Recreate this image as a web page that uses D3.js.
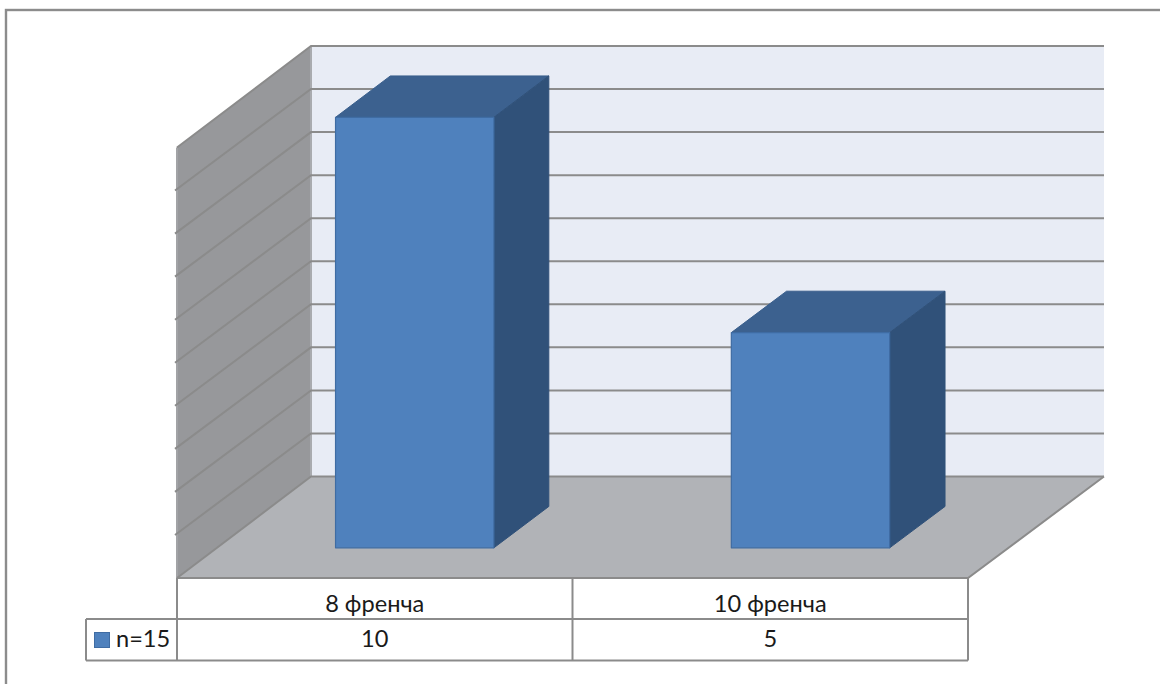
<!DOCTYPE html>
<html>
<head>
<meta charset="utf-8">
<title>n=15</title>
<script src="https://cdn.jsdelivr.net/npm/d3@7.9.0/dist/d3.min.js"></script>
<style>
  html, body { margin: 0; padding: 0; background: #fff; }
  svg { display: block; }
  text { font-family: Lato, "Open Sans", sans-serif; font-size: 23.6px; fill: #1a1a1a; }
</style>
</head>
<body>
<svg id="chart" width="1160" height="684"></svg>
<script>
/* ──── data ──── */
const categories = ['8 френча', '10 френча'];
const seriesName = 'n=15';
const values     = [10, 5];
const gridTicks  = d3.range(0, 11);

/* ──── layout ──── */
const frame  = { left: 6, top: 10, right: 1170, bottom: 700 };
const front  = { left: 177, right: 968, bottom: 578, top: 147.5 };
const skew   = { x: 134, y: -101.5 };      // front-to-back shift of the box
const table  = { row1: 619, row2: 660.5, legendLeft: 86 };
const barZ   = [0.297, 0.705];             // bar's front and back depth, 0-1

const svg = d3.select('#chart');

const xScale = d3.scaleBand()
  .domain(categories)
  .range([front.left, front.right]);

const yScale = d3.scaleLinear()
  .domain([0, 10])
  .range([front.bottom, front.top]);

/* project (px along x, value, depth) to the page; back wall is 2px wider */
const proj = (x, v, z) => [
  x + skew.x * z + 2 * z * (x - front.left) / (front.right - front.left),
  yScale(v) + skew.y * z
];
const poly = pts => pts.map(p => p.join(',')).join(' ');

/* chart frame */
svg.append('rect')
   .attr('x', frame.left).attr('y', frame.top)
   .attr('width', frame.right - frame.left)
   .attr('height', frame.bottom - frame.top)
   .attr('fill', '#fff')
   .attr('stroke', '#8c8c8c')
   .attr('stroke-width', 2.4);

/* ──── box walls ──── */
const L = front.left, R = front.right;

svg.append('polygon')                      // back wall
   .attr('points', poly([proj(L, 0, 1), proj(R, 0, 1), proj(R, 10, 1), proj(L, 10, 1)]))
   .attr('fill', '#e8ecf5');

svg.append('polygon')                      // left wall
   .attr('points', poly([proj(L, 0, 0), proj(L, 0, 1), proj(L, 10, 1), proj(L, 10, 0)]))
   .attr('fill', '#97989b');

svg.append('polygon')                      // floor
   .attr('points', poly([proj(L, 0, 0), proj(R, 0, 0), proj(R, 0, 1), proj(L, 0, 1)]))
   .attr('fill', '#b1b3b7');

/* ──── gridlines ──── */
const grid = svg.append('g')
  .attr('fill', 'none')
  .attr('stroke', '#8b8b8b')
  .attr('stroke-width', 2);

/* wall edges first so the gridlines sit on top */
grid.append('path')
  .attr('stroke', '#a2a3a6')
  .attr('d', d3.line()([proj(L, 10, 0), proj(L, 0, 0)]));
grid.append('path')
  .attr('stroke', '#a9abaf')
  .attr('d', d3.line()([proj(L, 10, 1), proj(L, 0, 1)]));

grid.selectAll('path.tick')
  .data(gridTicks)
  .join('path')
  .attr('class', 'tick')
  .attr('d', v => d3.line()([
    proj(L - (v === 0 || v === 10 ? 0 : 2), v, 0),
    proj(L, v, 1),
    proj(R, v, 1)
  ]));

grid.append('path')
  .attr('d', d3.line()([proj(L, 0, 0), proj(R, 0, 0), proj(R, 0, 1)]));

/* ──── bars ──── */
const barWidth = xScale.bandwidth() * 0.4;

const bars = svg.append('g')
  .selectAll('g')
  .data(values)
  .join('g')
  .attr('stroke-linejoin', 'round');

const barX = i => xScale(categories[i]) + (xScale.bandwidth() - barWidth) / 2;

bars.append('polygon')                     // top
  .attr('fill', '#3c618f')
  .attr('stroke', '#3a5f8c')
  .attr('points', (v, i) => {
    const x = barX(i);
    return poly([proj(x, v, barZ[0]), proj(x + barWidth, v, barZ[0]),
                 proj(x + barWidth, v, barZ[1]), proj(x, v, barZ[1])]);
  });

bars.append('polygon')                     // side
  .attr('fill', '#305179')
  .attr('stroke', '#305179')
  .attr('points', (v, i) => {
    const x = barX(i) + barWidth;
    return poly([proj(x, 0, barZ[0]), proj(x, 0, barZ[1]),
                 proj(x, v, barZ[1]), proj(x, v, barZ[0])]);
  });

bars.append('polygon')                     // front
  .attr('fill', '#4f81bd')
  .attr('stroke', '#3f6ca3')
  .attr('stroke-width', 1.2)
  .attr('points', (v, i) => {
    const x = barX(i);
    return poly([proj(x, 0, barZ[0]), proj(x + barWidth, 0, barZ[0]),
                 proj(x + barWidth, v, barZ[0]), proj(x, v, barZ[0])]);
  });

/* ──── data table under the floor ──── */
const tbl = svg.append('g')
  .attr('fill', 'none')
  .attr('stroke', '#8b8b8b')
  .attr('stroke-width', 2);

const splits = [front.left, ...categories.map(c => xScale(c) + xScale.bandwidth())];

tbl.selectAll('line.v')
  .data(splits)
  .join('line')
  .attr('class', 'v')
  .attr('x1', d => d).attr('x2', d => d)
  .attr('y1', front.bottom).attr('y2', table.row2);

tbl.append('line')
  .attr('x1', table.legendLeft).attr('x2', R)
  .attr('y1', table.row1).attr('y2', table.row1);
tbl.append('line')
  .attr('x1', table.legendLeft).attr('x2', R)
  .attr('y1', table.row2).attr('y2', table.row2);
tbl.append('line')
  .attr('x1', table.legendLeft).attr('x2', table.legendLeft)
  .attr('y1', table.row1).attr('y2', table.row2);

const cx = c => xScale(c) + xScale.bandwidth() / 2;

svg.append('g').selectAll('text')
  .data(categories)
  .join('text')
  .attr('text-anchor', 'middle')
  .attr('x', cx)
  .attr('y', 612)
  .text(d => d);

svg.append('g').selectAll('text')
  .data(values)
  .join('text')
  .attr('text-anchor', 'middle')
  .attr('x', (v, i) => cx(categories[i]))
  .attr('y', 647)
  .text(d => d);

/* legend key and series name */
svg.append('rect')
  .attr('x', 94.5).attr('y', 632.5)
  .attr('width', 15).attr('height', 15)
  .attr('fill', '#4f81bd')
  .attr('stroke', '#3f6ca3');

svg.append('text')
  .attr('x', 116)
  .attr('y', 647)
  .text(seriesName);
</script>
</body>
</html>
